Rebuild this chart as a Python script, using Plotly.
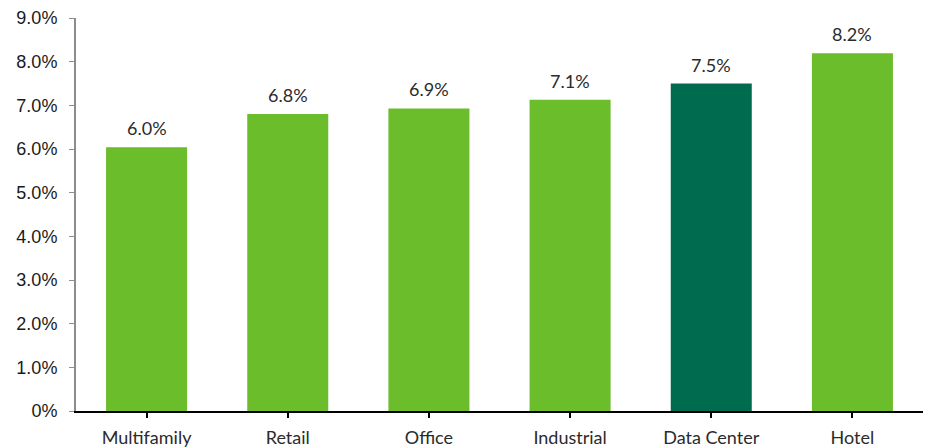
import plotly.graph_objects as go

categories = ["Multifamily", "Retail", "Office", "Industrial", "Data Center", "Hotel"]
values = [6.04, 6.80, 6.93, 7.13, 7.50, 8.19]
labels = ["6.0%", "6.8%", "6.9%", "7.1%", "7.5%", "8.2%"]
bar_colors = ["#6BBD2B", "#6BBD2B", "#6BBD2B", "#6BBD2B", "#006B4E", "#6BBD2B"]
ytick_vals = [0, 1, 2, 3, 4, 5, 6, 7, 8, 9]
ytick_text = ["0%", "1.0%", "2.0%", "3.0%", "4.0%", "5.0%", "6.0%", "7.0%", "8.0%", "9.0%"]

label_font = dict(family="Lato, DejaVu Sans", size=18, color="#2b2b2b", weight=400)

fig = go.Figure(go.Bar(
    x=categories, y=values, marker=dict(color=bar_colors, line=dict(width=0)),
))

for c, v, t in zip(categories, values, labels):
    fig.add_annotation(x=c, y=v, text=t, showarrow=False, yanchor="bottom",
                       yshift=6, font=label_font)

fig.update_layout(
    width=930, height=448,
    margin=dict(l=76, r=7, t=18, b=37, autoexpand=False),
    plot_bgcolor="white", paper_bgcolor="white",
    bargap=0.426, showlegend=False,
    xaxis=dict(showline=True, linecolor="black", linewidth=2, ticks="outside",
               ticklen=5, tickcolor="black", tickwidth=1.5, automargin=False,
               tickfont=label_font, ticklabelstandoff=4),
    yaxis=dict(range=[0, 9], tickvals=ytick_vals, ticktext=ytick_text,
               showline=True, linecolor="#8C8C8C", linewidth=2, ticks="outside",
               ticklen=5, tickcolor="#8C8C8C", showgrid=False, zeroline=False,
               automargin=False,
               tickfont=dict(family="Liberation Sans, Arial", size=18, color="#1a1a1a"),
               ticklabelstandoff=8),
)

fig.write_html("out.html")
